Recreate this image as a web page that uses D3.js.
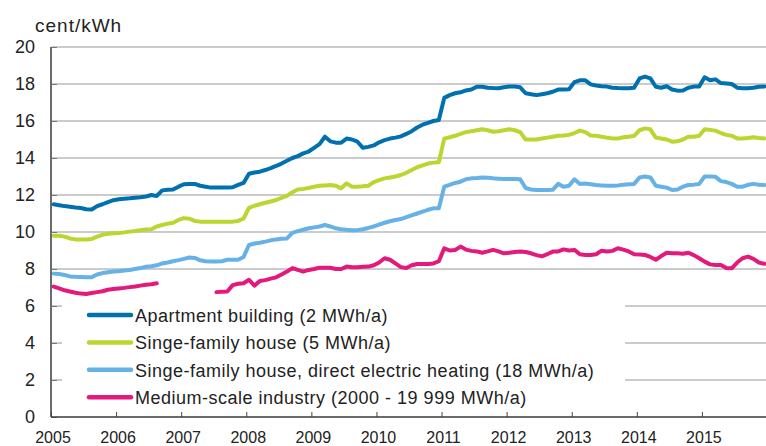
<!DOCTYPE html>
<meta charset="utf-8">
<style>
body { margin: 0; background: #fff; }
text { font-family: "Liberation Sans", Arial, sans-serif; fill: #222; }
.grid line { stroke: #c9cbcc; stroke-width: 1.5px; shape-rendering: crispEdges; }
.line { fill: none; stroke-width: 4px; stroke-linejoin: round; stroke-linecap: round; }
</style>
<body>
<script src="https://d3js.org/d3.v7.min.js"></script>
<script>
// monthly prices, cent/kWh, Jan 2005 - Dec 2015 (one row per year)
var apartment = [
  11.5, 11.45, 11.4, 11.37, 11.33, 11.3, 11.23, 11.22, 11.4, 11.5, 11.62, 11.72,
  11.77, 11.8, 11.82, 11.85, 11.88, 11.92, 12.0, 11.95, 12.25, 12.28, 12.3, 12.45,
  12.58, 12.6, 12.6, 12.5, 12.45, 12.4, 12.4, 12.4, 12.4, 12.42, 12.55, 12.65,
  13.15, 13.22, 13.26, 13.35, 13.45, 13.57, 13.7, 13.85, 14.0, 14.1, 14.25, 14.35,
  14.55, 14.75, 15.15, 14.9, 14.83, 14.83, 15.05, 15.0, 14.88, 14.55, 14.6, 14.68,
  14.85, 14.97, 15.05, 15.1, 15.17, 15.3, 15.45, 15.65, 15.8, 15.9, 16.0, 16.05,
  17.25, 17.4, 17.5, 17.55, 17.65, 17.7, 17.85, 17.85, 17.8, 17.78, 17.77, 17.82,
  17.86, 17.86, 17.82, 17.5, 17.45, 17.4, 17.45, 17.5, 17.58, 17.7, 17.7, 17.72,
  18.1, 18.2, 18.2, 17.98, 17.92, 17.88, 17.86, 17.8, 17.78, 17.77, 17.77, 17.8,
  18.3, 18.4, 18.3, 17.85, 17.8, 17.88, 17.7, 17.64, 17.65, 17.8, 17.86, 17.87,
  18.36, 18.2, 18.25, 18.05, 18.03, 18.0, 17.8, 17.77, 17.77, 17.8, 17.85, 17.86
];
var singleFamily = [
  9.8, 9.8, 9.75, 9.65, 9.6, 9.6, 9.6, 9.62, 9.75, 9.85, 9.9, 9.93,
  9.95, 9.98, 10.02, 10.05, 10.1, 10.14, 10.15, 10.3, 10.38, 10.45, 10.5, 10.65,
  10.75, 10.72, 10.6, 10.56, 10.56, 10.55, 10.56, 10.56, 10.56, 10.56, 10.6, 10.73,
  11.3, 11.42, 11.5, 11.58, 11.65, 11.73, 11.85, 11.95, 12.15, 12.3, 12.33, 12.38,
  12.45, 12.5, 12.52, 12.54, 12.5, 12.36, 12.63, 12.45, 12.45, 12.47, 12.5, 12.7,
  12.8, 12.9, 12.95, 13.0, 13.08, 13.2, 13.35, 13.5, 13.6, 13.7, 13.75, 13.77,
  15.05, 15.12, 15.2, 15.3, 15.4, 15.45, 15.5, 15.55, 15.5, 15.42, 15.45, 15.5,
  15.55, 15.5, 15.4, 15.0, 15.0, 15.0, 15.05, 15.1, 15.15, 15.2, 15.22, 15.25,
  15.35, 15.48, 15.4, 15.22, 15.2, 15.15, 15.1, 15.06, 15.05, 15.12, 15.15, 15.2,
  15.5, 15.6, 15.55, 15.1, 15.05, 15.0, 14.88, 14.9, 15.0, 15.15, 15.15, 15.2,
  15.55, 15.52, 15.48, 15.35, 15.25, 15.2, 15.06, 15.05, 15.08, 15.12, 15.08, 15.06
];
var directElectric = [
  7.75, 7.73, 7.68, 7.6, 7.58, 7.57, 7.55, 7.55, 7.7, 7.78, 7.82, 7.86,
  7.88, 7.92, 7.95, 8.0, 8.05, 8.12, 8.15, 8.2, 8.3, 8.35, 8.42, 8.48,
  8.55, 8.62, 8.6, 8.47, 8.42, 8.41, 8.41, 8.42, 8.5, 8.5, 8.5, 8.65,
  9.3, 9.38, 9.42, 9.48, 9.55, 9.6, 9.63, 9.65, 9.95, 10.05, 10.12, 10.2,
  10.25, 10.3, 10.38, 10.3, 10.2, 10.15, 10.12, 10.1, 10.1, 10.15, 10.22, 10.3,
  10.4, 10.5, 10.58, 10.65, 10.7, 10.8, 10.9, 11.0, 11.1, 11.2, 11.28, 11.28,
  12.45, 12.55, 12.65, 12.72, 12.85, 12.9, 12.92, 12.95, 12.93, 12.9, 12.88, 12.86,
  12.86, 12.86, 12.85, 12.38, 12.3, 12.27, 12.27, 12.27, 12.28, 12.6, 12.45, 12.5,
  12.85, 12.6, 12.62, 12.58, 12.54, 12.52, 12.5, 12.5, 12.52, 12.55, 12.58, 12.6,
  12.95, 13.0, 12.95, 12.5, 12.45, 12.4, 12.27, 12.3, 12.45, 12.54, 12.56, 12.6,
  13.0, 13.0, 12.98, 12.75, 12.7, 12.6, 12.45, 12.45, 12.55, 12.6, 12.55, 12.54
];
var industry = [
  7.05, 6.95, 6.85, 6.78, 6.72, 6.67, 6.65, 6.7, 6.75, 6.8, 6.88, 6.92,
  6.95, 6.98, 7.02, 7.05, 7.1, 7.15, 7.18, 7.23, null, null, null, null,
  null, null, null, null, null, null, 6.75, 6.77, 6.78, 7.13, 7.2, 7.23,
  7.42, 7.1, 7.35, 7.4, 7.48, 7.55, 7.7, 7.86, 8.05, 7.95, 7.86, 7.95,
  8.0, 8.07, 8.07, 8.07, 8.0, 8.0, 8.13, 8.1, 8.1, 8.12, 8.13, 8.2,
  8.35, 8.58, 8.5, 8.3, 8.1, 8.05, 8.2, 8.27, 8.27, 8.27, 8.3, 8.42,
  9.12, 9.0, 9.03, 9.21, 9.05, 8.98, 8.95, 8.88, 8.95, 9.03, 8.95, 8.85,
  8.88, 8.92, 8.94, 8.92, 8.85, 8.75, 8.68, 8.8, 8.94, 8.95, 9.06, 9.0,
  9.03, 8.8, 8.76, 8.76, 8.8, 8.99, 8.95, 8.98, 9.12, 9.05, 8.95, 8.8,
  8.78, 8.76, 8.65, 8.5, 8.7, 8.88, 8.85, 8.85, 8.82, 8.88, 8.75, 8.58,
  8.4, 8.25, 8.22, 8.22, 8.05, 8.04, 8.35, 8.58, 8.67, 8.55, 8.35, 8.28
];

var seriesNames = [
  "Apartment building (2 MWh/a)",
  "Singe-family house (5 MWh/a)",
  "Singe-family house, direct electric heating (18 MWh/a)",
  "Medium-scale industry (2000 - 19 999 MWh/a)"
];
var seriesColors = ["#0070ae", "#bcd530", "#66b2e6", "#e3197b"];
var yTicks = [0, 2, 4, 6, 8, 10, 12, 14, 16, 18, 20];
var xTicks = [2005, 2006, 2007, 2008, 2009, 2010, 2011, 2012, 2013, 2014, 2015];
var startYear = 2005;

// dimensions
var W = 766, H = 446;
var margin = {top: 47, right: 0, bottom: 29, left: 51},
    width = W - margin.left - margin.right,
    height = H - margin.top - margin.bottom;

var x = d3.scaleLinear().domain([2005, 2016]).range([0, width + 1]);
var y = d3.scaleLinear().domain([0, 20]).range([height, 0]);

var svg = d3.select("body").append("svg")
    .attr("width", W)
    .attr("height", H)
  .append("g")
    .attr("transform", "translate(" + margin.left + "," + margin.top + ")");

// gridlines
svg.append("g")
    .attr("class", "grid")
  .selectAll("line")
    .data(yTicks.filter(function(d) { return d > 0; }))
  .enter().append("line")
    .attr("x1", 0)
    .attr("x2", width)
    .attr("y1", function(d) { return y(d); })
    .attr("y2", function(d) { return y(d); });

// lines
var valueline = d3.line()
    .defined(function(d) { return d != null; })
    .x(function(d, i) { return x(startYear + (i + 0.5) / 12); })
    .y(function(d) { return y(d); });

[apartment, singleFamily, directElectric, industry].forEach(function(s, k) {
  svg.append("path")
      .datum(s)
      .attr("class", "line")
      .attr("stroke", seriesColors[k])
      .attr("d", valueline);
});

// legend box (covers the gridlines behind it)
var legend = svg.append("g").attr("transform", "translate(11,252)");
legend.append("rect")
    .attr("width", 563)
    .attr("height", 112)
    .attr("fill", "#fff");

var item = legend.selectAll(".item")
    .data(seriesNames)
  .enter().append("g")
    .attr("transform", function(d, i) { return "translate(0," + (16 + i * 27.4) + ")"; });
item.append("line")
    .attr("x1", 27).attr("x2", 69)
    .attr("stroke", function(d, i) { return seriesColors[i]; })
    .attr("stroke-width", 4.5)
    .attr("stroke-linecap", "round");
item.append("text")
    .attr("x", 73)
    .attr("y", 7)
    .style("font-size", "18px")
    .style("letter-spacing", "0.5px")
    .text(function(d) { return d; });

// y axis
var yAxis = svg.append("g")
    .call(d3.axisRight(y).tickValues(yTicks).tickSize(6).tickFormat(""));
yAxis.select(".domain").attr("stroke", "#3a3a3a").attr("stroke-width", 1.5)
    .attr("d", "M0," + y(20) + "V" + y(0));
yAxis.selectAll(".tick line").attr("stroke", "#777");

svg.selectAll(".ylab")
    .data(yTicks)
  .enter().append("text")
    .attr("x", -16)
    .attr("y", function(d) { return y(d); })
    .attr("dy", "0.36em")
    .attr("text-anchor", "end")
    .style("font-size", "18px")
    .text(function(d) { return d; });

// x axis
var xAxis = svg.append("g")
    .attr("transform", "translate(0," + height + ")")
    .call(d3.axisTop(x).tickValues(xTicks).tickSize(5).tickFormat(""));
xAxis.select(".domain").attr("stroke", "#3a3a3a").attr("stroke-width", 1.5)
    .attr("d", "M0,0H" + width);
xAxis.selectAll(".tick line").attr("stroke", "#444");

svg.selectAll(".xlab")
    .data(xTicks)
  .enter().append("text")
    .attr("x", function(d) { return x(d) + 2; })
    .attr("y", height + 26)
    .attr("text-anchor", "middle")
    .style("font-size", "16px")
    .text(function(d) { return d; });

// unit label
svg.append("text")
    .attr("x", -16)
    .attr("y", -15)
    .style("font-size", "19px")
    .style("letter-spacing", "1px")
    .text("cent/kWh");
</script>
</body>
